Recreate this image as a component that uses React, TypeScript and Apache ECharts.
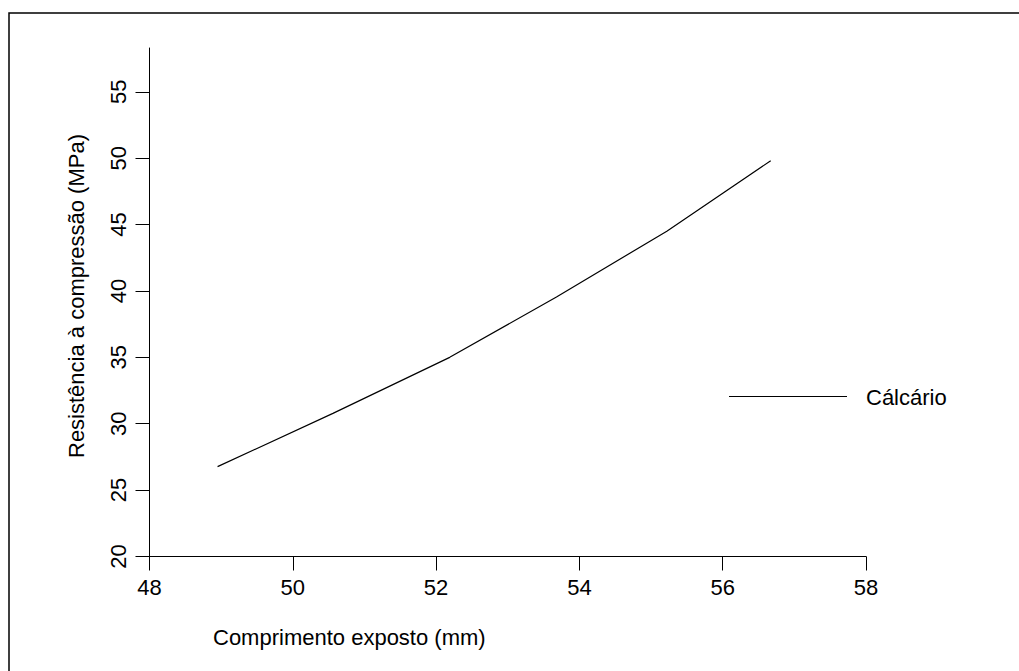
import React, { useEffect, useRef } from "react";
import * as echarts from "echarts";

const xValues = [48.95, 50.56, 52.19, 53.68, 55.22, 56.67];
const yValues = [26.77, 30.78, 35.0, 39.55, 44.5, 49.81];
const yTicks = [20, 25, 30, 35, 40, 45, 50, 55];
const seriesName = "Cálcário";
const xTitle = "Comprimento exposto (mm)";
const yTitle = "Resistência à compressão (MPa)";

const FONT = "'Liberation Sans', Arial, Helvetica, sans-serif";

export default function App() {
  const ref = useRef<HTMLDivElement>(null);
  useEffect(() => {
    if (!ref.current) return;
    const chart = echarts.init(ref.current, null, { renderer: "svg" });
    chart.setOption({
      animation: false,
      backgroundColor: "#ffffff",
      textStyle: { fontFamily: FONT },
      grid: { left: 149.5, top: 48, right: 153, bottom: 114.5, containLabel: false },
      xAxis: {
        type: "value",
        min: 48,
        max: 58,
        interval: 2,
        splitLine: { show: false },
        axisLine: { show: true, lineStyle: { color: "#000", width: 1 } },
        axisTick: { show: true, inside: false, length: 14, lineStyle: { color: "#000", width: 1 } },
        axisLabel: { margin: 20, fontSize: 22, color: "#000", fontFamily: FONT },
      },
      yAxis: {
        type: "value",
        min: 20,
        max: 58.3,
        splitLine: { show: false },
        axisLine: { show: true, onZero: false, lineStyle: { color: "#000", width: 1 } },
        axisTick: { show: true, inside: false, length: 14, customValues: yTicks, lineStyle: { color: "#000", width: 1 } },
        axisLabel: { customValues: yTicks, rotate: 90, margin: 20, fontSize: 22, color: "#000", fontFamily: FONT },
      },
      legend: {
        show: true,
        orient: "horizontal",
        left: 729,
        top: 386,
        padding: 0,
        itemWidth: 118,
        itemHeight: 20,
        itemGap: 10,
        textStyle: { fontSize: 22, color: "#000", fontFamily: FONT, padding: [0, 0, 0, 14] },
        data: [{ name: seriesName, icon: "none" }],
      },
      series: [
        {
          name: seriesName,
          type: "line",
          data: xValues.map((x, i) => [x, yValues[i]]),
          showSymbol: false,
          symbol: "none",
          lineStyle: { color: "#000", width: 1.2 },
          itemStyle: { color: "#000" },
        },
      ],
      graphic: [
        {
          type: "rect",
          shape: { x: 9, y: 13, width: 1200, height: 900 },
          style: { fill: "none", stroke: "#000", lineWidth: 1.5 },
          silent: true,
        },
        {
          type: "line",
          shape: { x1: 729, y1: 396.5, x2: 847, y2: 396.5 },
          style: { stroke: "#000", lineWidth: 1.2 },
          silent: true,
        },
        {
          type: "text",
          x: 213,
          y: 637,
          style: { text: xTitle, font: `22px ${FONT}`, fill: "#000", textAlign: "left", textVerticalAlign: "middle" },
        },
        {
          type: "text",
          x: 76,
          y: 296,
          rotation: Math.PI / 2,
          style: { text: yTitle, font: `22px ${FONT}`, fill: "#000", textAlign: "center", textVerticalAlign: "middle" },
        },
      ],
    });
    return () => chart.dispose();
  }, []);
  return (
    <div
      ref={ref}
      style={{ position: "fixed", left: 0, top: 0, width: 1019, height: 671 }}
    />
  );
}
